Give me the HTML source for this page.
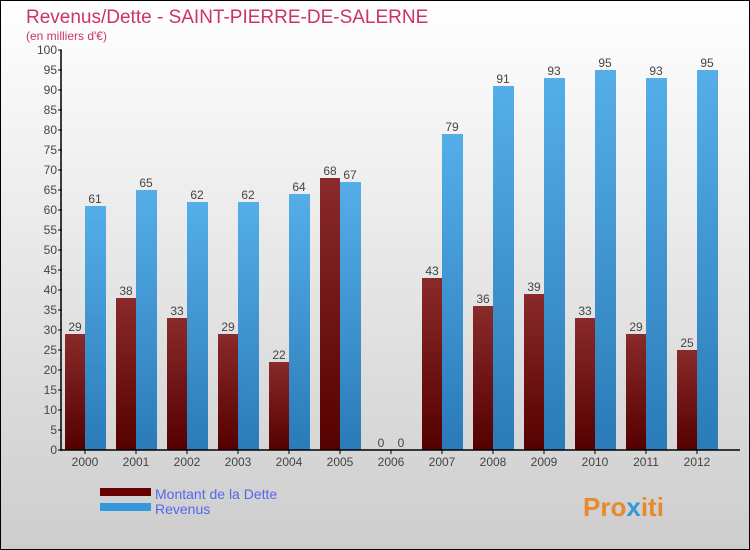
<!DOCTYPE html>
<html><head><meta charset="utf-8"><style>
body{margin:0}
svg{display:block;font-family:"Liberation Sans",sans-serif}
</style></head><body>
<svg id="c" width="750" height="550">
<defs>
<linearGradient id="bg" x1="0" y1="0" x2="0" y2="1"><stop offset="0" stop-color="#ffffff"/><stop offset="1" stop-color="#cdcdcd"/></linearGradient>
<linearGradient id="gd" x1="0" y1="0" x2="0" y2="1"><stop offset="0" stop-color="#8a2a2a"/><stop offset="1" stop-color="#550000"/></linearGradient>
<linearGradient id="gr" x1="0" y1="0" x2="0" y2="1"><stop offset="0" stop-color="#55aee8"/><stop offset="1" stop-color="#2a7bb8"/></linearGradient>
</defs>
<rect x="0.5" y="0.5" width="749" height="549" fill="url(#bg)" stroke="#000"/>
<text x="26" y="23" font-size="19" fill="#cc3366">Revenus/Dette - SAINT-PIERRE-DE-SALERNE</text>
<text x="26" y="40" font-size="12" fill="#cc3366">(en milliers d'€)</text>
<g id="bars"></g>
<g id="axis"></g>
<rect x="100" y="488" width="51" height="8" fill="#660000"/>
<rect x="100" y="503" width="51" height="8" fill="#3399dd"/>
<text x="155" y="499" font-size="14" fill="#5566ee">Montant de la Dette</text>
<text x="155" y="514" font-size="14" fill="#5566ee">Revenus</text>
<text x="583" y="516" font-size="26" font-weight="bold" fill="#e88a2a">Pro<tspan fill="#3399dd">x</tspan>iti</text>
</svg>
<script>
const years=["2000","2001","2002","2003","2004","2005","2006","2007","2008","2009","2010","2011","2012"];
const dette=[29,38,33,29,22,68,0,43,36,39,33,29,25];
const revenus=[61,65,62,62,64,67,0,79,91,93,95,93,95];
const ticks=[0,5,10,15,20,25,30,35,40,45,50,55,60,65,70,75,80,85,90,95,100];
const NS="http://www.w3.org/2000/svg";
const y=v=>450-v*4, cx=i=>85+i*51;
const bars=document.getElementById('bars'), ax=document.getElementById('axis');
function mk(p,t,a){const e=document.createElementNS(NS,t);for(const k in a)e.setAttribute(k,a[k]);p.appendChild(e);return e;}
years.forEach((yr,i)=>{
  let r=mk(bars,'rect',{x:cx(i)-20,y:y(dette[i]),width:20,height:dette[i]*4,fill:'url(#gd)'});
  
  
  r=mk(bars,'rect',{x:cx(i),y:y(revenus[i]),width:21,height:revenus[i]*4,fill:'url(#gr)'});
  
  
  let t=mk(bars,'text',{x:cx(i)-10,y:y(dette[i])-3,'font-size':12,fill:'#444','text-anchor':'middle'});t.textContent=dette[i];
  
  
  t=mk(bars,'text',{x:cx(i)+10,y:y(revenus[i])-3,'font-size':12,fill:'#444','text-anchor':'middle'});t.textContent=revenus[i];
  
  
  t=mk(ax,'text',{x:cx(i),y:466,'font-size':12,fill:'#444','text-anchor':'middle'});t.textContent=yr;
  
  
  mk(ax,'line',{x1:cx(i),x2:cx(i),y1:450,y2:454,stroke:'#000'});
});
ticks.forEach(v=>{
  mk(ax,'line',{x1:58,x2:62,y1:y(v),y2:y(v),stroke:'#000'});
  const t=mk(ax,'text',{x:57,y:y(v)+4,'font-size':12,fill:'#444','text-anchor':'end'});t.textContent=v;
  
  
});
let l=mk(ax,'line',{x1:61,x2:61,y1:50,y2:451,stroke:'#000','stroke-width':1.5});


l=mk(ax,'line',{x1:61,x2:740,y1:450,y2:450,stroke:'#000','stroke-width':1.5});


</script>
</body></html>
